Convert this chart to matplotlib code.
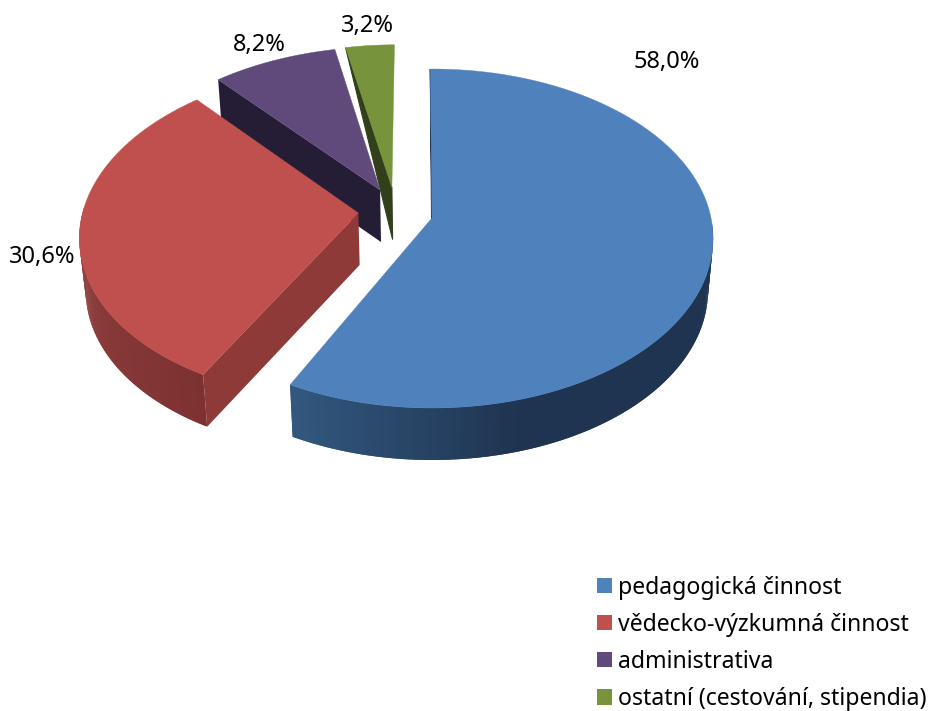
import numpy as np
import matplotlib
matplotlib.use('Agg')
import matplotlib.pyplot as plt
from matplotlib.colors import to_rgb
from matplotlib.patches import Patch

plt.rcParams['font.family'] = ['Noto Sans', 'DejaVu Sans']

categories = ['pedagogická činnost', 'vědecko-výzkumná činnost', 'administrativa', 'ostatní (cestování, stipendia)']
shares = [58.0, 30.6, 8.2, 3.2]
top_colors = ['#4f81bd', '#c0504d', '#604a7b', '#77933c']
cut_colors = ['#1e3450', '#8e3a38', '#251c35', '#323f1a']
wall_colors = [('#1e3450', '#33587f'), ('#7c3231', '#944040'), ('#251c35', '#251c35'), ('#323f1a', '#323f1a')]
wall_ranges = [(165, 208), (208, 270), (0, 360), (0, 360)]
# offset of each slice from the pie centre, in radius units
explode = [(0, 0), (-0.265, -0.03), (-0.19, -0.171), (-0.147, -0.186)]
radius = [1, 0.992, 1, 1]
# the blue rim ends a little early in the original's perspective
warp = [1.5, 0, 0, 0]
label_pos = [(667, 62), (42, 257), (259, 45), (367, 26)]

CX, CY = 432, 218
RX, RY = 279, 167
PERSP = 0.121
DEPTH = 52
BOTTOM_SCALE = 0.982
START = -0.4


def project(phi, r, off, bend=0):
    # phi is degrees clockwise from 12 o'clock
    a = np.radians(phi - bend * (1 - np.cos(np.radians(phi))) / 2)
    mx = r * np.sin(a) + off[0]
    my = -r * np.cos(a) + off[1]
    p = 1 / (1 - PERSP * my)
    return CX + RX * mx * p, CY + RY * my * p


def lower(x, y):
    return CX + (x - CX) * BOTTOM_SCALE, y + DEPTH


def mix(c1, c2, t):
    c1, c2 = np.array(to_rgb(c1)), np.array(to_rgb(c2))
    return tuple(c1 + (c2 - c1) * t)


def draw_slice(ax, i, start, end):
    off = explode[i]
    ax_x, ax_y = project(0, 0, off)
    arc = np.linspace(start, end, 241)
    xs, ys = project(arc, radius[i], off, warp[i])
    low_ax = lower(ax_x, ax_y)

    # near cut, blue and green narrow to a point at the rim
    x0, y0 = xs[0], ys[0]
    lx, ly = lower(x0, y0)
    if i in (0, 3):
        ax.fill([ax_x, x0, low_ax[0]], [ax_y, y0, low_ax[1]], color=cut_colors[i], lw=0.8)
    else:
        ax.fill([ax_x, x0, lx, low_ax[0]], [ax_y, y0, ly, low_ax[1]], color=cut_colors[i], lw=0)

    # outer wall, only the part turned to the viewer
    keep = np.where((arc >= 92) & (arc <= 272))[0]
    if len(keep) == 0:
        return
    for j in keep[:-1]:
        mid = (arc[j] + arc[j + 1]) / 2
        lo, hi = wall_ranges[i]
        t = np.clip((mid - lo) / (hi - lo), 0, 1)
        col = mix(wall_colors[i][0], wall_colors[i][1], t)
        # run into the next strip so no seams show between them
        k = min(j + 2, keep[-1])
        xa, ya = xs[j], ys[j]
        xb, yb = xs[k], ys[k]
        lxa, lya = lower(xa, ya)
        lxb, lyb = lower(xb, yb)
        ax.fill([xa, xb, lxb, lxa], [ya, yb, lyb, lya], color=col, lw=0)


def draw_top(ax, i, start, end):
    off = explode[i]
    ax_x, ax_y = project(0, 0, off)
    arc = np.linspace(start, end, 240)
    xs, ys = project(arc, radius[i], off, warp[i])
    ax.fill(np.r_[ax_x, xs], np.r_[ax_y, ys], color=top_colors[i], lw=0.3)


def main():
    fig = plt.figure(figsize=(9.31, 7.11), dpi=100)
    ax = fig.add_axes([0, 0, 1, 1])
    ax.set_xlim(0, 931)
    ax.set_ylim(711, 0)
    ax.axis('off')

    edges = START + np.r_[0, np.cumsum(shares)] / sum(shares) * 360

    # back slices first, the red one last because it sits in front
    for i in [3, 2, 0, 1]:
        draw_slice(ax, i, edges[i], edges[i + 1])
        draw_top(ax, i, edges[i], edges[i + 1])

    for val, pos in zip(shares, label_pos):
        ax.text(pos[0], pos[1], f'{val:.1f}%'.replace('.', ','), ha='center', va='center',
                fontsize=17, color='black')

    handles = [Patch(facecolor=c, edgecolor='none') for c in top_colors]
    ax.legend(handles, categories, loc='upper left', bbox_to_anchor=(597 / 931, 1 - 575.5 / 711),
              frameon=False, fontsize=16.6, handlelength=0.65, handleheight=0.65,
              handletextpad=0.27, labelspacing=0.57, borderpad=0, borderaxespad=0)

    fig.savefig('out.png', dpi=100)


if __name__ == "__main__":
    main()
